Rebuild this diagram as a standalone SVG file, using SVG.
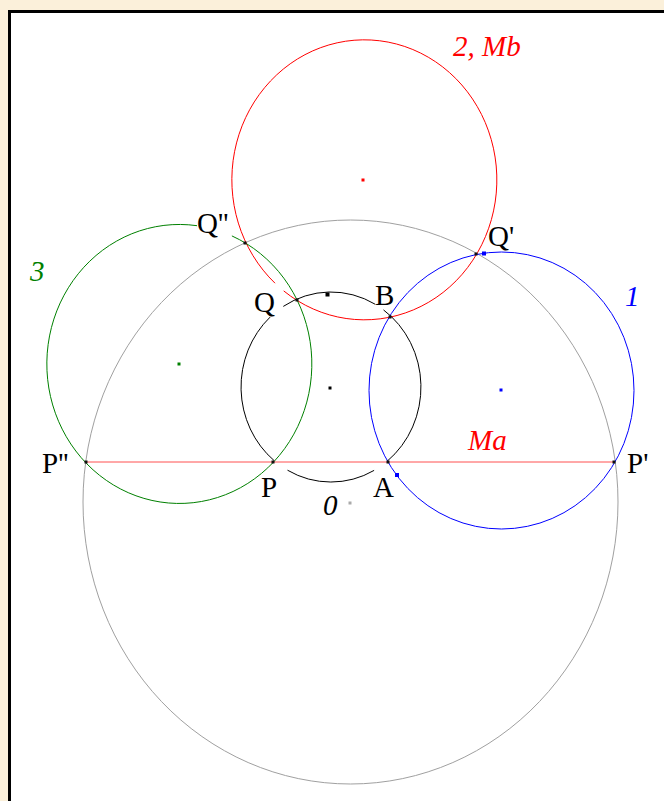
<svg xmlns="http://www.w3.org/2000/svg" width="664" height="801" viewBox="0 0 664 801">
<style>
.lbl{font-family:"Liberation Serif","Times New Roman",serif;font-size:29px;fill:#000}
.it{font-style:italic}
.c{fill:none;stroke-width:1}
.pt{fill:#111}
</style>
<rect x="0" y="0" width="664" height="801" fill="#fbf0da"/>
<rect x="9.5" y="11.5" width="700" height="850" fill="#fff" stroke="#000" stroke-width="3"/>
<g id="connectors">
<ellipse id="c0" class="c" cx="350.5" cy="502" rx="267.5" ry="282" stroke="#a0a0a0"/>
<ellipse id="c1" class="c" cx="501.5" cy="390.5" rx="132.5" ry="138.5" stroke="#0000ff"/>
<path id="c2" class="c" d="M 275.0 283.2 A 132.5 140 0 1 1 283.7 290.9" stroke="#ff0000"/>
<path id="c3" class="c" d="M 231.9 235.9 A 132.5 139.5 0 1 1 197.0 225.7" stroke="#008000"/>
<path id="cb" class="c" stroke="#000" d="M 383.5 309.9 A 90 95 0 0 1 387.3 461.1 M 374.1 470.4 A 90 95 0 0 1 287.5 470.2 M 274.1 460.6 A 90 95 0 0 1 270.1 317.1 M 283.3 306.4 A 90 95 0 0 1 375.3 304.3"/>
<line id="Ma" x1="86" y1="462" x2="615" y2="462" stroke="#ff5050" stroke-width="1"/>
</g>
<g id="centers">
<rect x="361.5" y="178.5" width="3" height="3" fill="#f00"/>
<rect x="499.5" y="388.5" width="3" height="3" fill="#00f"/>
<rect x="177.5" y="362.5" width="3" height="3" fill="#008000"/>
<rect x="328.5" y="386.5" width="3" height="3" fill="#000"/>
<rect x="348.5" y="501.5" width="3" height="3" fill="#aaa"/>
<rect x="482" y="251.5" width="4" height="4" fill="#00f"/>
<rect x="395" y="473" width="4" height="4" fill="#00f"/>
<rect x="325.5" y="292.5" width="4" height="4" fill="#000"/>
</g>
<g id="points">
<rect class="pt" x="84.5" y="460.5" width="3" height="3"/>
<rect class="pt" x="612.5" y="460.5" width="3" height="3"/>
<rect class="pt" x="271.5" y="460.5" width="3" height="3"/>
<rect class="pt" x="386.5" y="460.5" width="3" height="3"/>
<rect class="pt" x="295.5" y="298.5" width="3" height="3"/>
<rect class="pt" x="388.5" y="315.5" width="3" height="3"/>
<rect class="pt" x="243.5" y="241.5" width="3" height="3"/>
<rect class="pt" x="474.5" y="252.5" width="3" height="3"/>
</g>
<g id="labels">
<text class="lbl it" x="453" y="56" style="fill:#f00">2, Mb</text>
<text class="lbl" x="197" y="233">Q''</text>
<text class="lbl" x="488" y="246">Q'</text>
<text class="lbl it" x="30" y="281" style="fill:#008000">3</text>
<text class="lbl it" x="625" y="306" style="fill:#00f">1</text>
<text class="lbl" x="254" y="312">Q</text>
<text class="lbl" x="375" y="305">B</text>
<text class="lbl it" x="468" y="450" style="fill:#f00">Ma</text>
<text class="lbl" x="42" y="473">P''</text>
<text class="lbl" x="627" y="473">P'</text>
<text class="lbl" x="261" y="497">P</text>
<text class="lbl" x="373" y="497">A</text>
<text class="lbl it" x="323" y="515">0</text>
</g>
</svg>
